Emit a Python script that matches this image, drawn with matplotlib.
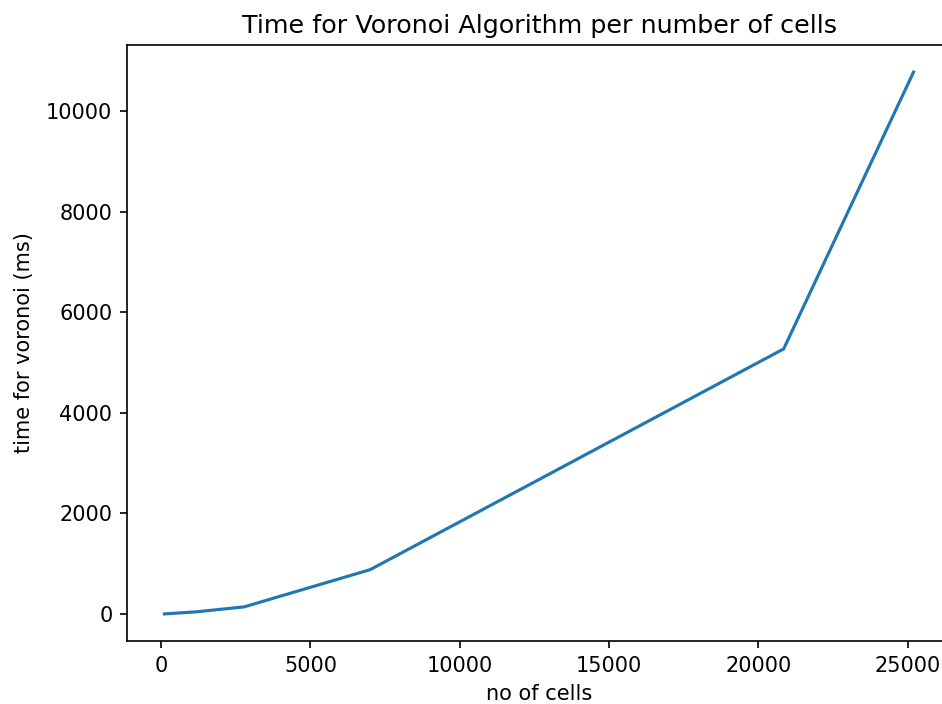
import matplotlib
matplotlib.use('Agg')
from matplotlib import pyplot as plt

cells = [110, 1150, 2780, 7000, 20850, 25200]
time_ms = [0, 40, 140, 880, 5270, 10775]

fig = plt.figure(figsize=(9.42, 7.04), dpi=100)
ax = fig.add_axes([127 / 942, 63 / 704, 824 / 942, 596 / 704])
ax.plot(cells, time_ms, color='#1f77b4', linewidth=2.25)

ax.set_title('Time for Voronoi Algorithm per number of cells', fontsize=18.3, pad=9)
ax.set_xlabel('no of cells', fontsize=15, labelpad=6)
ax.set_ylabel('time for voronoi (ms)', fontsize=15, labelpad=9)
ax.tick_params(labelsize=15, length=5.25, width=1.2, pad=5.25)
for s in ax.spines.values():
    s.set_linewidth(1.2)

fig.savefig('out.png', dpi=100)
